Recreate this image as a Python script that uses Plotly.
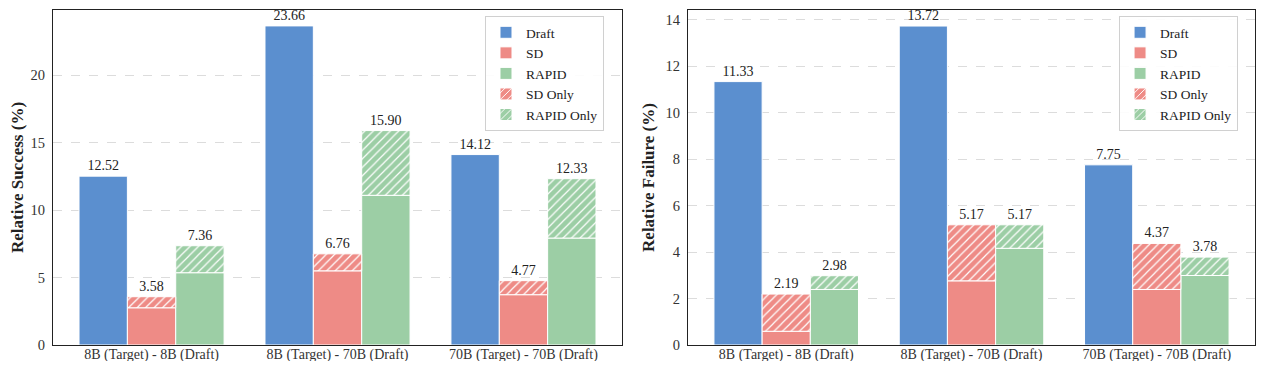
import plotly.graph_objects as go

categories = ["8B (Target) - 8B (Draft)", "8B (Target) - 70B (Draft)", "70B (Target) - 70B (Draft)"]

# Relative Success (%)
succ_draft = [12.52, 23.66, 14.12]
succ_sd_total = [3.58, 6.76, 4.77]
succ_sd_base = [2.76, 5.50, 3.73]
succ_rapid_total = [7.36, 15.90, 12.33]
succ_rapid_base = [5.36, 11.10, 7.93]

# Relative Failure (%)
fail_draft = [11.33, 13.72, 7.75]
fail_sd_total = [2.19, 5.17, 4.37]
fail_sd_base = [0.59, 2.76, 2.39]
fail_rapid_total = [2.98, 5.17, 3.78]
fail_rapid_base = [2.39, 4.16, 2.99]

BLUE = "#5B8FCF"
RED = "#EE8B86"
GREEN = "#9CCEA5"
FONT = "'Liberation Serif', 'Times New Roman', Times, serif"

fig = go.Figure()

def add_panel(xa, ya, legend, draft, sd_tot, sd_base, rp_tot, rp_base):
    line = dict(color="white", width=1)
    txt = dict(family=FONT, size=14, color="#222")
    fig.add_trace(go.Bar(x=categories, y=draft, name="Draft", offsetgroup="d",
                         marker=dict(color=BLUE, line=line), xaxis=xa, yaxis=ya, legend=legend,
                         text=[f"{v:.2f}" for v in draft], textposition="outside",
                         textfont=txt, cliponaxis=False))
    fig.add_trace(go.Bar(x=categories, y=sd_base, name="SD", offsetgroup="s",
                         marker=dict(color=RED, line=line), xaxis=xa, yaxis=ya, legend=legend))
    fig.add_trace(go.Bar(x=categories, y=rp_base, name="RAPID", offsetgroup="r",
                         marker=dict(color=GREEN, line=line), xaxis=xa, yaxis=ya, legend=legend))
    for tot, base, col, nm in ((sd_tot, sd_base, RED, "SD Only"), (rp_tot, rp_base, GREEN, "RAPID Only")):
        pat = dict(shape="/", fgcolor="white", bgcolor=col, size=6, solidity=0.2, fillmode="replace")
        fig.add_trace(go.Bar(x=categories, y=[t - b for t, b in zip(tot, base)], base=base,
                             name=nm, offsetgroup="s" if nm == "SD Only" else "r",
                             marker=dict(color=col, line=line, pattern=pat), xaxis=xa, yaxis=ya, legend=legend,
                             text=[f"{v:.2f}" for v in tot], textposition="outside",
                             textfont=txt, cliponaxis=False))

add_panel("x", "y", "legend", succ_draft, succ_sd_total, succ_sd_base, succ_rapid_total, succ_rapid_base)
add_panel("x2", "y2", "legend2", fail_draft, fail_sd_total, fail_sd_base, fail_rapid_total, fail_rapid_base)

axis_common = dict(showline=True, linecolor="#222", linewidth=1.2, mirror=True, automargin=False,
                   tickfont=dict(family=FONT, size=14.5, color="#333"), ticks="", ticklen=0)
xcommon = dict(axis_common, type="category", range=[-0.53, 2.53], showgrid=False,
               tickfont=dict(family=FONT, size=14, color="#333"), ticklabelstandoff=-4)
ycommon = dict(axis_common, showgrid=True, gridcolor="#dcdcdc", griddash="dash", gridwidth=1,
               zeroline=False, ticklabelstandoff=4)

legend_common = dict(font=dict(family=FONT, size=13.5, color="#222"), bgcolor="rgba(255,255,255,0.9)",
                     bordercolor="#d0d0d0", borderwidth=1, xanchor="right", yanchor="top",
                     tracegroupgap=0, itemwidth=30)

# figure is placed by the page with an 8px body margin, so it is sized/offset to fit
fig.update_layout(
    width=1248, height=353,
    margin=dict(l=45, r=1, t=2, b=16, autoexpand=False),
    paper_bgcolor="white", plot_bgcolor="white",
    barmode="group", bargap=0.22, bargroupgap=0,
    font=dict(family=FONT, size=14, color="#222"),
    xaxis=dict(xcommon, domain=[0, 0.4734], anchor="y"),
    xaxis2=dict(xcommon, domain=[0.5283, 1.0], anchor="y2"),
    yaxis=dict(ycommon, range=[0, 24.84], dtick=5, anchor="x",
               title=dict(text="<b>Relative Success (%)</b>", font=dict(family=FONT, size=17, color="#222"), standoff=6)),
    yaxis2=dict(ycommon, range=[0, 14.41], dtick=2, anchor="x2",
                title=dict(text="<b>Relative Failure (%)</b>", font=dict(family=FONT, size=17, color="#222"), standoff=6)),
    legend=dict(legend_common, x=0.4584, y=0.982),
    legend2=dict(legend_common, x=0.9859, y=0.982),
    showlegend=True,
)

fig.write_html("out.html")
